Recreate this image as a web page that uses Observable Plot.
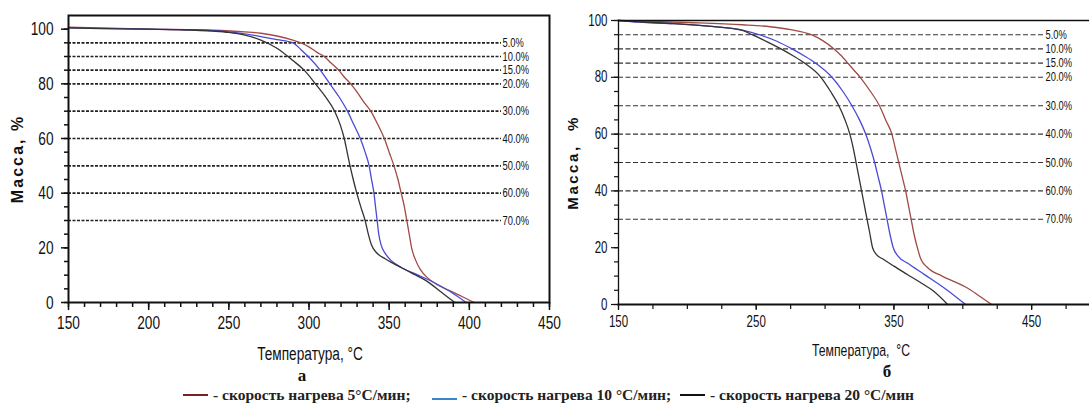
<!DOCTYPE html>
<html><head><meta charset="utf-8">
<script src="https://cdn.jsdelivr.net/npm/d3@7"></script>
<script src="https://cdn.jsdelivr.net/npm/@observablehq/plot@0.6"></script>
<style>
body{margin:0;background:#fff;}
#wrap{position:relative;width:1089px;height:408px;overflow:hidden;background:#fff;}
#pa{position:absolute;left:0;top:0;}
#pb{position:absolute;left:560px;top:0;}
.it{position:absolute;top:386px;font-family:"Liberation Serif","Times New Roman",serif;font-weight:bold;font-size:15.5px;color:#222;white-space:nowrap;display:flex;align-items:center;height:18px;}
.sw{display:inline-block;width:25px;height:0;border-top:2px solid #000;margin-right:5px;}
</style></head>
<body><div id="wrap"><div id="pa"></div><div id="pb"></div></div>
<script>
// ---------- data ----------
const seriesNames = ["5°С/мин", "10 °С/мин", "20 °С/мин"];
const seriesColors = ["#a04a46", "#4a4ad6", "#333333"];
const legendColors = ["#7a1f24", "#3a86c8", "#111111"];
const legendTexts = ["- скорость нагрева 5°С/мин;", "- скорость нагрева 10 °С/мин;", "- скорость нагрева 20 °С/мин"];

// panel а : [temperature °C, mass %]
const a5 = [[150,100.7],[200,100],[240,99.6],[260,99],[270,98.5],[280,97.5],[290,96],[295,95],[300,93.5],[305,91.5],[309.5,90],[314,87.5],[318.5,85],[322,82.5],[326,80],[330,77],[334,73.5],[338.5,70],[343,65],[347,60],[350,55],[353,50],[355.5,45],[357.5,40],[359.5,35],[361,30],[362.5,25],[364,20],[366.5,15.5],[369.5,12],[374,9],[380,6.5],[389,4],[396,2],[403,0]];
const a10 = [[150,100.5],[200,100],[230,99.7],[250,99],[260,98.3],[270,97.3],[280,96.2],[290,95],[295,92.5],[299.5,90],[307,85],[313,80],[319,75],[324,70],[328,65],[332,60],[335,55],[337.5,50],[339,45],[340.5,40],[341.5,35],[342.5,30],[343.5,25],[345,21],[347.5,18],[351,15.5],[357,13],[367,10.3],[377,7.6],[388,4],[398,0]];
const a20 = [[150,100.5],[170,100.2],[200,100],[220,99.8],[240,99.3],[250,98.8],[260,97.8],[270,96],[280,93],[290,88.5],[297,85],[304,80],[310,75.5],[316,70],[319.5,65],[322,60],[323.8,55],[325.6,50],[327.6,45],[329.8,40],[332.3,35],[335,30],[337,25],[339,21],[342,18.3],[347.5,16],[352,14.5],[357.5,12.8],[365,10.5],[373,8],[382,4],[391,0]];

// panel б
const b5 = [[150,100],[200,99.3],[240,98.5],[260,97.8],[275,96.8],[290,95],[298,93],[306.5,90],[312,87.5],[316.5,85],[321,82.5],[325.5,80],[333,75],[339.5,70],[344,65],[348.5,60],[351,55],[353.5,50],[356,45],[358.5,40],[360.5,35],[362.5,30],[364.5,25],[367,20],[369.5,16],[374,13.2],[385,10],[395,7.8],[403,5.9],[412,3],[421,0]];
const b10 = [[150,100],[165,99.4],[190,98.9],[215,98],[240,96.6],[252,95],[265,92.7],[276,90],[285,87.5],[293,85],[305,80],[313,75],[319.5,70],[325,65],[329.5,60],[333,55],[336,50],[338.5,45],[341,40],[343,35],[345,30],[347,25],[349.5,20],[353,17],[360,14.5],[372,10.6],[388,5.3],[402,0]];
const b20 = [[150,100],[165,99.5],[190,98.9],[215,98],[240,96.5],[247,95],[258,92.5],[268,90],[277,87.5],[285,85],[297,80],[304,75],[310,70],[314.5,65],[318,60],[320.5,55],[322.5,50],[324.5,45],[326.5,40],[328.5,35],[330.5,30],[332.5,25],[334.5,20],[337.5,17.5],[342,16],[350,13.5],[360,10.5],[370,7.5],[378,5],[389,0]];

// mass-loss reference levels (%)
const lossLevels = [5, 10, 15, 20, 30, 40, 50, 60, 70];

// ticks
const xTicksA = [150, 200, 250, 300, 350, 400, 450];
const xMinorA = d3.range(150, 451, 10);
const xTicksB = [150, 250, 350, 450];
const xMinorB = d3.range(150, 492, 25);
const yTicks = [0, 20, 40, 60, 80, 100];
const yMinor = d3.range(0, 101, 5);

function rows(sets) {
  const out = [];
  sets.forEach((s, i) => s.forEach(([t, m]) => out.push({t, m, s: seriesNames[i]})));
  return out;
}

const sans = "'Liberation Sans',Arial,sans-serif";

function panel(o) {
  return Plot.plot({
    width: o.width, height: 385,
    marginLeft: o.ml, marginRight: o.mr, marginTop: o.mt, marginBottom: o.mb,
    style: {fontFamily: sans, fontSize: o.fs + "px", color: "#111", background: "transparent", overflow: "visible"},
    x: {domain: o.xdomain},
    y: {domain: o.ydomain},
    color: {domain: seriesNames, range: seriesColors},
    marks: [
      Plot.ruleY(lossLevels, {y: d => 100 - d, stroke: o.dashC, strokeWidth: o.dashW, strokeDasharray: o.dash, insetRight: o.ruleInset}),
      Plot.text(lossLevels, {y: d => 100 - d, text: d => d.toFixed(1) + "%", frameAnchor: "right", dx: -o.ruleInset + 1, textAnchor: "start", lineAnchor: "middle", fontSize: o.lfs, fill: "#111"}),
      Plot.line(rows(o.data), {x: "t", y: "m", z: "s", stroke: "s", strokeWidth: 1.3, curve: "monotone-x"}),
      ...o.frames,
      Plot.axisX({ticks: o.xMinor, tickSize: 5, text: null, label: null, strokeWidth: o.tickW}),
      Plot.axisX({ticks: o.xTicks, tickSize: o.xts, tickPadding: o.xtp, tickFormat: d => String(d), label: null, strokeWidth: o.tickW}),
      Plot.axisY({ticks: yMinor, tickSize: 4, text: null, label: null, strokeWidth: o.tickW}),
      Plot.axisY({ticks: yTicks, tickSize: o.yts, tickPadding: o.ytp, tickFormat: d => String(d), label: null, strokeWidth: o.tickW}),
      Plot.text([o.ylabel], {frameAnchor: "left", dx: o.ylx, rotate: -90, textAnchor: "middle", lineAnchor: "middle", fontWeight: "bold", fontSize: o.ylfs, fill: "#111"}),
      Plot.text([o.xlabel], {frameAnchor: "bottom", dx: o.xlx, dy: o.xly, textAnchor: "middle", lineAnchor: "middle", fontSize: o.xlfs, fill: "#111"}),
      Plot.text([o.sub], {frameAnchor: "bottom", dx: o.subx, dy: o.suby, textAnchor: "middle", lineAnchor: "middle", fontSize: 17, fontWeight: "bold", fontFamily: "'Liberation Serif',serif", fill: "#111"})
    ]
  });
}

// narrow the sans-serif texts horizontally (the reference uses a condensed face)
function condense(svg, f, skip, spacing, ylabel) {
  svg.querySelectorAll("text").forEach(t => {
    const txt = t.textContent;
    if (skip.includes(txt)) return;
    if (txt === ylabel) { t.setAttribute("letter-spacing", spacing); return; }
    const x = parseFloat(t.getAttribute("x") || 0);
    const yAttr = t.getAttribute("y");
    let y = 0;
    if (yAttr && !/em$/.test(yAttr)) { y = parseFloat(yAttr); t.removeAttribute("y"); }
    t.removeAttribute("x");
    const tr = t.getAttribute("transform") || "";
    t.setAttribute("transform", `${tr} translate(${x},${y}) scale(${f},1)`);
  });
}

const A = panel({
  width: 560, ml: 68, mr: 11, mt: 15, mb: 83,
  fs: 19, lfs: 13, xdomain: [150, 450], ydomain: [0, 105],
  data: [a5, a10, a20], dash: "3,1.5", dashW: 1.6, dashC: "#222", ruleInset: 48,
  frames: [Plot.frame({stroke: "#111", strokeWidth: 2})],
  xMinor: xMinorA, xTicks: xTicksA, xts: 8, xtp: 5, yts: 7, ytp: 8, tickW: 1.5,
  ylabel: "Масса, %", ylx: -51, ylfs: 16,
  xlabel: "Температура, °С", xlx: 1, xly: 51, xlfs: 19,
  sub: "а", subx: -7, suby: 73
});
const B = panel({
  width: 529, ml: 58, mr: 0, mt: 20, mb: 81,
  fs: 16, lfs: 13, xdomain: [150, 492], ydomain: [0, 100],
  data: [b5, b10, b20], dash: "5,2.5", dashW: 1.1, dashC: "#333", ruleInset: 45,
  frames: [Plot.frame({anchor: "top", stroke: "#111", strokeWidth: 1.5}), Plot.frame({anchor: "left", stroke: "#111", strokeWidth: 1.3}), Plot.frame({anchor: "bottom", stroke: "#111", strokeWidth: 1.8})],
  xMinor: xMinorB, xTicks: xTicksB, xts: 6, xtp: 5, yts: 7, ytp: 4, tickW: 1.2,
  ylabel: "Масса,  %", ylx: -45, ylfs: 15,
  xlabel: "Температура,  °С", xlx: 7, xly: 46, xlfs: 17,
  sub: "б", subx: 33, suby: 67
});
condense(A, 0.72, ["а"], 2, "Масса, %");
condense(B, 0.72, ["б"], 2.5, "Масса,  %");
document.getElementById("pa").appendChild(A);
document.getElementById("pb").appendChild(B);

const legendLeft = [183, 432, 680];
const wrap = document.getElementById("wrap");
legendTexts.forEach((t, i) => {
  const it = document.createElement("span");
  it.className = "it";
  it.style.left = legendLeft[i] + "px";
  const sw = document.createElement("span");
  sw.className = "sw";
  sw.style.borderTopColor = legendColors[i];
  if (i === 1) sw.style.marginTop = "8px";
  it.appendChild(sw);
  it.appendChild(document.createTextNode(t));
  wrap.appendChild(it);
});
</script></body></html>
